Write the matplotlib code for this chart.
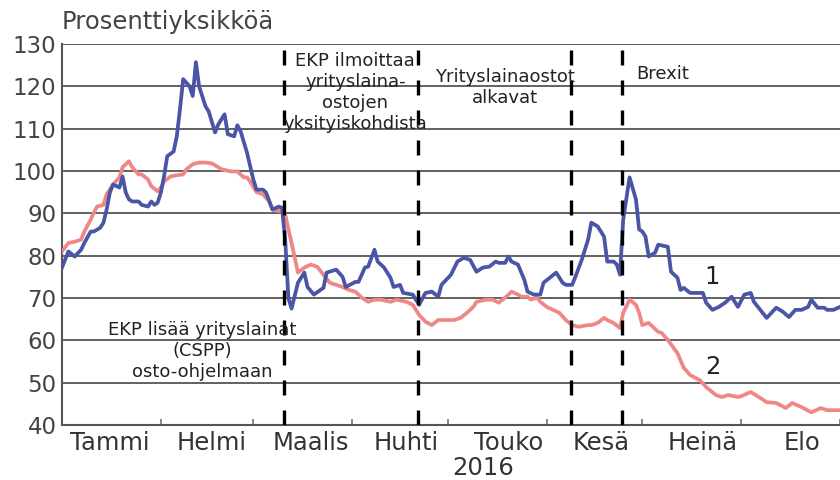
import numpy as np
import matplotlib
matplotlib.use("Agg")
import matplotlib.pyplot as plt
import matplotlib.dates as mdates

# ---- data (days since 2016-01-01, values in percentage units) ----
blue_day = [0, 2, 4, 6, 7, 9, 10, 12, 13, 14, 15, 16, 18, 19, 20, 21, 22, 24, 25, 27,
            28, 29, 30, 31, 32, 33, 35, 36, 37, 38, 40, 41, 42, 43, 45, 46, 48, 49, 51, 52,
            54, 55, 56, 58, 60, 61, 63, 64, 66, 68, 69, 70, 71, 72, 74, 76, 77, 79, 82, 83,
            86, 88, 89, 92, 93, 95, 96, 98, 99, 101, 103, 104, 106, 107, 110, 112, 114, 116, 118, 119,
            122, 124, 126, 128, 130, 132, 134, 136, 137, 139, 140, 141, 143, 145, 146, 148, 150, 151, 153, 155,
            157, 158, 160, 161, 163, 165, 166, 168, 170, 171, 173, 174, 175, 176, 178, 180, 181, 182, 183, 184,
            186, 187, 190, 191, 193, 194, 195, 197, 198, 201, 202, 204, 206, 208, 210, 212, 214, 216, 217, 219,
            221, 224, 226, 228, 230, 232, 234, 235, 237, 239, 240, 242, 244]
blue_val = [77.2, 81.0, 79.8, 81.4, 83.0, 85.7, 85.7, 86.6, 87.8, 90.9, 94.9, 96.8, 96.1, 98.7, 94.9, 93.3, 92.8, 92.8, 92.0, 91.6,
            92.8, 92.0, 92.5, 94.9, 98.7, 103.5, 104.6, 108.2, 114.6, 121.7, 120.0, 117.7, 125.7, 120.0, 115.3, 114.1, 109.1, 111.0, 113.4, 108.7,
            108.2, 110.8, 109.4, 104.4, 98.0, 95.6, 95.6, 94.9, 90.9, 91.6, 91.3, 83.8, 70.0, 67.5, 73.6, 76.0, 72.6, 70.8, 72.4, 76.0,
            76.7, 75.0, 72.6, 73.8, 73.8, 77.2, 77.4, 81.4, 78.6, 77.2, 74.8, 72.6, 73.1, 71.2, 70.8, 68.4, 71.2, 71.5, 70.3, 73.1,
            75.5, 78.6, 79.5, 79.0, 76.2, 77.2, 77.4, 78.6, 78.3, 78.3, 79.8, 78.6, 77.9, 74.3, 71.5, 70.8, 70.8, 73.6, 74.8, 76.0,
            73.6, 73.1, 73.1, 75.0, 79.0, 83.8, 87.8, 86.9, 84.5, 78.6, 78.6, 77.9, 75.5, 88.5, 98.5, 93.3, 86.2, 85.7, 84.5, 79.8,
            80.7, 82.6, 82.1, 76.2, 74.8, 71.9, 72.4, 71.2, 71.2, 71.2, 68.9, 67.2, 67.9, 68.9, 70.3, 67.9, 70.8, 71.2, 69.1, 67.2,
            65.3, 67.7, 66.8, 65.5, 67.2, 67.2, 67.9, 69.6, 67.7, 67.7, 67.2, 67.2, 67.9]

pink_day = [0, 2, 4, 6, 7, 9, 10, 11, 13, 14, 16, 18, 19, 21, 22, 24, 25, 27, 28, 30,
            31, 32, 34, 36, 38, 39, 41, 43, 45, 47, 49, 50, 53, 55, 57, 58, 59, 61, 63, 65,
            66, 69, 70, 72, 74, 76, 78, 80, 82, 84, 86, 88, 90, 92, 94, 96, 98, 100, 103, 105,
            108, 110, 112, 114, 116, 118, 121, 123, 125, 127, 129, 130, 133, 135, 137, 139, 141, 143, 144, 146,
            147, 149, 150, 152, 154, 156, 158, 160, 162, 165, 166, 168, 170, 171, 173, 175, 176, 178, 180, 181,
            182, 184, 187, 188, 190, 193, 195, 197, 200, 202, 205, 207, 209, 212, 213, 216, 219, 221, 224, 227,
            229, 232, 235, 238, 240, 243, 244]
pink_val = [81.0, 83.0, 83.3, 83.8, 85.7, 88.5, 90.2, 91.6, 92.0, 94.5, 96.8, 98.5, 100.9, 102.3, 100.9, 99.2, 99.2, 98.0, 96.4, 95.2,
            96.1, 97.5, 98.7, 99.0, 99.2, 100.4, 101.6, 102.0, 102.0, 101.8, 100.9, 100.4, 99.9, 99.9, 98.5, 98.5, 97.5, 95.0, 94.5, 92.8,
            90.9, 90.4, 89.7, 83.0, 76.0, 77.2, 77.9, 77.4, 75.5, 73.6, 73.1, 72.6, 71.9, 71.5, 70.1, 69.1, 69.6, 69.6, 69.1, 69.6,
            69.1, 68.4, 66.0, 64.4, 63.6, 64.8, 64.8, 64.8, 65.3, 66.5, 67.9, 69.1, 69.6, 69.6, 68.9, 70.1, 71.5, 70.8, 70.3, 70.3,
            69.6, 70.1, 69.1, 67.9, 67.2, 66.5, 64.8, 63.6, 63.2, 63.6, 63.6, 64.1, 65.3, 64.8, 64.1, 62.9, 66.5, 69.6, 68.4, 66.5,
            63.6, 64.1, 62.0, 61.8, 60.1, 57.0, 53.5, 51.8, 50.6, 49.0, 47.1, 46.6, 47.1, 46.6, 46.8, 47.8, 46.4, 45.4, 45.2, 44.0,
            45.2, 44.2, 43.0, 44.0, 43.5, 43.5, 43.5]

month_labels = ["Tammi", "Helmi", "Maalis", "Huhti", "Touko", "Kesä", "Heinä", "Elo"]
month_label_dates = ["2016-01-16", "2016-02-17", "2016-03-19", "2016-04-18",
                     "2016-05-20", "2016-06-18", "2016-07-20", "2016-08-20"]
event_dates = ["2016-03-10T12", "2016-04-21T12", "2016-06-08T12", "2016-06-24T12"]
y_ticks = [40, 50, 60, 70, 80, 90, 100, 110, 120, 130]

start = np.datetime64("2016-01-01")
blue_x = start + np.array(blue_day).astype("timedelta64[D]")
pink_x = start + np.array(pink_day).astype("timedelta64[D]")

fig = plt.figure(figsize=(8.4, 4.8), dpi=100)
ax = fig.add_axes([62/840, 1 - 425/480, 1 - 62/840, (425 - 44)/480])

grey = "#444444"
for v in y_ticks:
    ax.axhline(v, color="#555555", lw=1.3, zorder=1)

ax.plot(pink_x, pink_val, color="#f08787", lw=2.7, zorder=3, solid_joinstyle="round")
ax.plot(blue_x, blue_val, color="#4a55a5", lw=2.7, zorder=4, solid_joinstyle="round")

for d in event_dates:
    ax.axvline(np.datetime64(d), color="black", lw=2.4, linestyle=(0, (4.5, 4.5)), zorder=5)

ax.set_ylim(40, 130)
ax.set_xlim(np.datetime64("2016-01-01"), np.datetime64("2016-09-01"))
ax.set_yticks(y_ticks)
ax.tick_params(axis="y", length=0, labelsize=16.5, labelcolor=grey, pad=4)

ax.set_xticks([mdates.date2num(np.datetime64(d)) for d in month_label_dates])
ax.set_xticklabels(month_labels)
ax.xaxis.set_minor_locator(mdates.MonthLocator())
ax.tick_params(axis="x", which="major", length=0, labelsize=17.5, labelcolor="#333333", pad=4)
ax.tick_params(axis="x", which="minor", direction="in", length=4, width=1.2, color="#777777")

for s in ["top", "right"]:
    ax.spines[s].set_visible(False)
for s in ["left", "bottom"]:
    ax.spines[s].set_color("#555555")
    ax.spines[s].set_linewidth(1.5)

txt = dict(fontsize=13, color="#222222", zorder=6, linespacing=1.22)
ax.text(np.datetime64("2016-04-02"), 118.6, "EKP ilmoittaa\nyrityslaina-\nostojen\nyksityiskohdista",
        ha="center", va="center", **txt)
ax.text(np.datetime64("2016-05-19"), 119.8, "Yrityslainaostot\nalkavat",
        ha="center", va="center", **txt)
ax.text(np.datetime64("2016-06-29"), 122.9, "Brexit", ha="left", va="center", **txt)
ax.text(np.datetime64("2016-02-14"), 57.4, "EKP lisää yrityslainat\n(CSPP)\nosto-ohjelmaan",
        ha="center", va="center", **txt)
ax.text(np.datetime64("2016-07-23"), 75.0, "1", ha="center", va="center", fontsize=17.5, color="#222222")
ax.text(np.datetime64("2016-07-23"), 53.8, "2", ha="center", va="center", fontsize=17.5, color="#222222")

fig.text(483/840, 1 - 468/480, "2016", ha="center", va="center", fontsize=17.5, color="#333333")
fig.text(62/840, 1 - 22/480, "Prosenttiyksikköä", ha="left", va="center", fontsize=17.5, color=grey)

fig.savefig("out.png", dpi=100)
